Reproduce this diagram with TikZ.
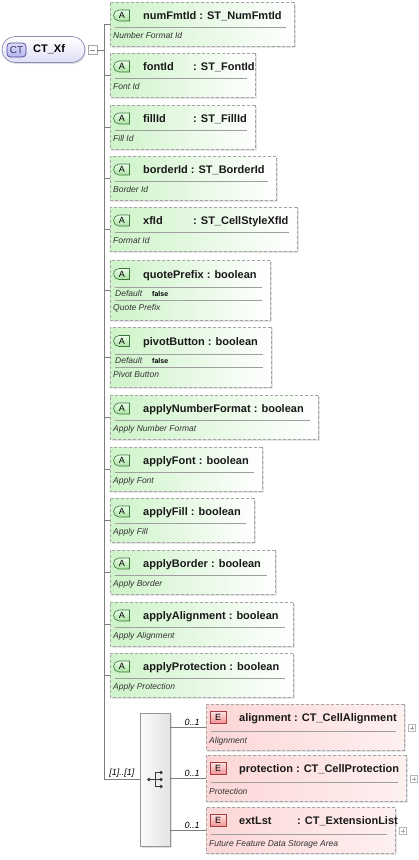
\documentclass[tikz,border=0pt]{standalone}
\usepackage{fontspec}
\setmainfont{Liberation Sans}
\usepackage{tikz}
\usetikzlibrary{positioning, arrows.meta, calc, shapes.misc, shadows}
\definecolor{attrgreen}{RGB}{206,243,201}
\definecolor{agreenfill}{RGB}{170,224,160}
\definecolor{agreenline}{RGB}{60,120,60}
\definecolor{elempink}{RGB}{252,214,214}
\definecolor{elemlight}{RGB}{254,240,240}
\definecolor{eredfill}{RGB}{240,150,150}
\definecolor{eredline}{RGB}{170,60,60}
\definecolor{boxgray}{RGB}{165,165,165}
\definecolor{treegray}{RGB}{125,125,125}
\definecolor{ctfill}{RGB}{222,222,248}
\definecolor{ctline}{RGB}{140,140,185}
\definecolor{ctbadgefill}{RGB}{180,180,236}
\definecolor{ctbadgeline}{RGB}{70,70,150}
\definecolor{seqline}{RGB}{150,150,150}
\definecolor{seqicon}{RGB}{60,60,60}
\newcommand{\attrbox}[5]{%
  \node[attrframe, minimum width={#3-110}, minimum height=44] (#1) at ({(110+#3)/2},{#2+22}) {};
  \node[abadge] (#1-badge) at (122,{#2+13.5}) {A};
  \node[ttl] (#1-title) at (143,{#2+17}) {#4};
  \draw[sepline] (115,{#2+25}) -- ({#3-8},{#2+25});
  \node[dsc] (#1-desc) at (113,{#2+36}) {#5};
}
\newcommand{\attrboxdef}[5]{%
  \node[attrframe, minimum width={#3-110}, minimum height=60] (#1) at ({(110+#3)/2},{#2+30}) {};
  \node[abadge] (#1-badge) at (122,{#2+14}) {A};
  \node[ttl] (#1-title) at (143,{#2+18}) {#4};
  \draw[sepline] (115,{#2+27}) -- ({#3-8},{#2+27});
  \node[dsc] (#1-dlabel) at (115,{#2+36.5}) {Default};
  \node[dflt] (#1-dvalue) at (152,{#2+36.5}) {false};
  \draw[sepline] (115,{#2+40}) -- ({#3-8},{#2+40});
  \node[dsc] (#1-desc) at (113,{#2+50.5}) {#5};
}
\newcommand{\elembox}[5]{%
  \node[elemframe, minimum width={#3-206}, minimum height=46] (#1) at ({(206+#3)/2},{#2+23}) {};
  \node[ebadge] (#1-badge) at (218,{#2+13}) {E};
  \node[ttl] (#1-title) at (239,{#2+17}) {#4};
  \draw[sepline] (211,{#2+27}) -- ({#3-8},{#2+27});
  \node[dsc] (#1-desc) at (209,{#2+39.5}) {#5};
  \node[plusbox] (#1-plus) at ({#3+8},{#2+24}) {};
}

\begin{document}
\begin{tikzpicture}[
  x=1pt, y=-1pt,
  tree/.style={draw=treegray, line width=0.6pt},
  sepline/.style={draw=gray!75, line width=0.5pt},
  attrframe/.style={chamfered rectangle, chamfered rectangle xsep=3.5pt,
    chamfered rectangle corners={north west, north east, south west},
    inner sep=0, draw=boxgray, line width=0.7pt, dash pattern=on 3pt off 2pt,
    left color=attrgreen, right color=white,
    drop shadow={shadow xshift=1.5pt, shadow yshift=-1.5pt, opacity=0.3}},
  elemframe/.style={attrframe, left color=elempink, right color=elemlight},
  abadge/.style={rounded rectangle, rounded rectangle right arc=none,
    minimum width=16pt, minimum height=11pt, inner sep=0, draw=agreenline,
    line width=0.6pt, top color=green!8!white, bottom color=agreenfill,
    font=\fontsize{9}{9}\selectfont},
  ebadge/.style={rectangle, minimum width=16pt, minimum height=12pt, inner sep=0,
    draw=eredline, line width=0.6pt, top color=red!10!white, bottom color=eredfill,
    font=\fontsize{9}{9}\selectfont},
  ttl/.style={anchor=base west, inner sep=0, text=black!90,
    font=\fontsize{11}{13}\bfseries\selectfont},
  dsc/.style={anchor=base west, inner sep=0, text=black!80,
    font=\fontsize{8.5}{10}\itshape\selectfont},
  dflt/.style={anchor=base west, inner sep=0, font=\fontsize{7}{8}\bfseries\selectfont},
  card/.style={inner sep=1.5pt, font=\fontsize{9}{10}\itshape\selectfont},
  ctnode/.style={rounded rectangle, minimum width=83pt, minimum height=26pt, inner sep=0,
    draw=ctline, line width=0.7pt, top color=white, bottom color=ctfill,
    drop shadow={shadow xshift=1pt, shadow yshift=-1.5pt, opacity=0.25}},
  ctbadge/.style={rectangle, rounded corners=3.5pt, minimum width=19pt, minimum height=14pt,
    inner sep=0, draw=ctbadgeline, line width=0.7pt, top color=ctfill, bottom color=ctbadgefill,
    text=ctbadgeline!70!black, font=\fontsize{10}{10}\selectfont},
  ctlabel/.style={anchor=west, inner sep=0, font=\fontsize{11}{13}\bfseries\selectfont},
  seqbox/.style={rectangle, minimum width=30pt, minimum height=133pt, inner sep=0,
    draw=seqline, line width=0.6pt, left color=gray!3, right color=gray!22,
    drop shadow={shadow xshift=1.5pt, shadow yshift=-1.5pt, opacity=0.25}},
  minusbox/.style={rectangle, minimum size=9pt, inner sep=0, draw=gray!70, fill=white,
    path picture={\draw[gray!85, line width=0.6pt]
      ([xshift=2pt]path picture bounding box.west) -- ([xshift=-2pt]path picture bounding box.east);}},
  plusbox/.style={rectangle, minimum size=7pt, inner sep=0, draw=gray!55, fill=white,
    path picture={\draw[gray!70, line width=0.5pt]
      ([xshift=1.5pt]path picture bounding box.west) -- ([xshift=-1.5pt]path picture bounding box.east)
      ([yshift=-1.5pt]path picture bounding box.north) -- ([yshift=1.5pt]path picture bounding box.south);}}
]
  \useasboundingbox (0,0) rectangle (419,860);

  \node[ctnode] (ctxf) at (43.5,49.5) {};
  \node[ctbadge] (ctbadge) at (16.5,50) {CT};
  \node[ctlabel] (ctname) at (33,49.5) {CT\_Xf};
  \node[minusbox] (ctminus) at (92.5,50) {};
  \coordinate (trunk) at (104,50);

  \attrbox{numFmtId}{2}{294}{numFmtId : ST\_NumFmtId}{Number Format Id}
  \attrbox{fontId}{53}{255}{\makebox[50pt][l]{fontId}: ST\_FontId}{Font Id}
  \attrbox{fillId}{105}{255}{\makebox[50pt][l]{fillId}: ST\_FillId}{Fill Id}
  \attrbox{borderId}{156}{276}{borderId : ST\_BorderId}{Border Id}
  \attrbox{xfId}{207}{297}{\makebox[50pt][l]{xfId}: ST\_CellStyleXfId}{Format Id}
  \attrboxdef{quotePrefix}{260}{270}{quotePrefix : boolean}{Quote Prefix}
  \attrboxdef{pivotButton}{327}{271}{pivotButton : boolean}{Pivot Button}
  \attrbox{applyNumberFormat}{395}{318}{applyNumberFormat : boolean}{Apply Number Format}
  \attrbox{applyFont}{447}{262}{applyFont : boolean}{Apply Font}
  \attrbox{applyFill}{498}{254}{applyFill : boolean}{Apply Fill}
  \attrbox{applyBorder}{550}{275}{applyBorder : boolean}{Apply Border}
  \attrbox{applyAlignment}{602}{293}{applyAlignment : boolean}{Apply Alignment}
  \attrbox{applyProtection}{653}{293}{applyProtection : boolean}{Apply Protection}

  \node[seqbox] (seq) at (155,779.5) {};
  \begin{scope}[shift={(seq.center)}]
    \draw[seqicon, line width=0.7pt] (-6,0) -- (0,0) (0,-7) -- (0,7)
      (0,-7) -- (6,-7) (0,0) -- (6,0) (0,7) -- (6,7);
    \fill[seqicon] (-6,0) circle (1.8pt) (6,-7) circle (1.8pt)
      (6,0) circle (1.8pt) (6,7) circle (1.8pt);
  \end{scope}

  \elembox{alignment}{704}{404}{alignment : CT\_CellAlignment}{Alignment}
  \elembox{protection}{755}{406}{protection : CT\_CellProtection}{Protection}
  \elembox{extLst}{807}{395}{\makebox[58pt][l]{extLst}: CT\_ExtensionList}{Future Feature Data Storage Area}

  \draw[tree] (ctminus.east) -- (trunk);
  \draw[tree] (numFmtId.west -| trunk) -- (seq.west -| trunk);
  \foreach \a in {numFmtId, fontId, fillId, borderId, xfId, quotePrefix, pivotButton,
    applyNumberFormat, applyFont, applyFill, applyBorder, applyAlignment, applyProtection}
    \draw[tree] (\a.west -| trunk) -- (\a.west);
  \draw[tree] (seq.west -| trunk) -- node[card, above] {[1]..[1]} (seq.west);
  \foreach \e in {alignment, protection, extLst}
    \draw[tree] (\e.west -| seq.east) -- node[card, above, pos=0.62] {0..1} (\e.west);
\end{tikzpicture}
\end{document}
